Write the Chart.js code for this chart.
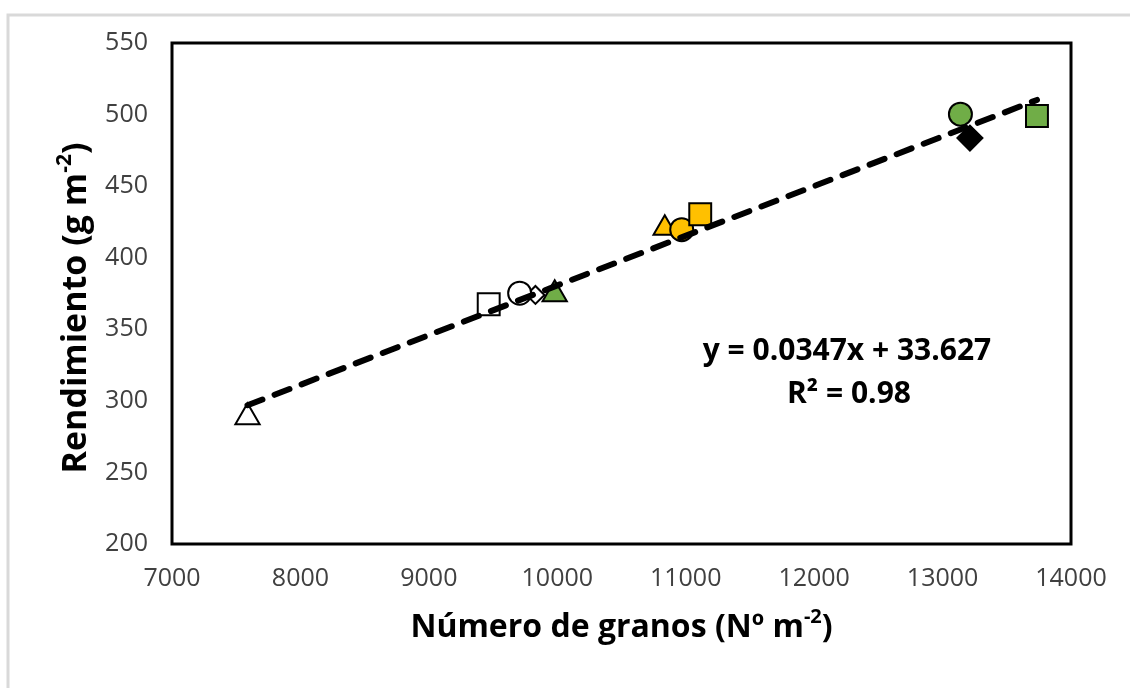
<!DOCTYPE html>
<html><head><meta charset="utf-8">
<script src="https://cdn.jsdelivr.net/npm/chart.js@4.4.0/dist/chart.umd.min.js"></script>
<style>html,body{margin:0;padding:0;background:#fff;overflow:hidden}#wrap{position:relative;width:1130px;height:688px}</style>
</head><body><div id="wrap"><canvas id="c" width="1130" height="688"></canvas></div>
<script>
// ---- data ----
const granos      = [7588, 9466, 9830, 9707, 9980, 10837, 10969, 11113, 13139, 13213, 13735];
const rendimiento = [288.5, 367.5, 374, 375.2, 374.5, 420.6, 419.6, 430.4, 500.3, 483.6, 499];
const xTicks = [7000, 8000, 9000, 10000, 11000, 12000, 13000, 14000];
const yTicks = [200, 250, 300, 350, 400, 450, 500, 550];
const trendSlope = 0.0347;
const trendIntercept = 33.627;
const trendR2 = 0.98;
const xTitleMain = 'Número de granos (Nº m';
const yTitleMain = 'Rendimiento (g m';
const titleSup = '-2';
const titleEnd = ')';
const eqLine1 = 'y = 0.0347x + 33.627';
const eqLine2 = 'R² = 0.98';

// ---- marker styles (not data) ----
const markerShapes = ['triangle','rect','rectRot','circle','triangle','triangle','circle','rect','circle','rectRot','rect'];
const markerColors = ['#ffffff','#ffffff','#ffffff','#ffffff','#70ad47','#ffc000','#ffc000','#ffc000','#70ad47','#000000','#70ad47'];
const markerRadii  = [14, 15.5, 9, 11.5, 14, 13, 11.5, 15.5, 11.5, 12.5, 15.5];

const xMin = Math.min(...granos), xMax = Math.max(...granos);
const trendData = [xMin, xMax].map(x => ({x: x, y: trendSlope * x + trendIntercept}));

const FONT = '"Open Sans", "Noto Sans", sans-serif';

const framePlugin = {
  id: 'frame',
  beforeDraw(chart) {
    const ctx = chart.ctx;
    ctx.save();
    ctx.fillStyle = '#ffffff';
    ctx.fillRect(0, 0, chart.width, chart.height);
    ctx.strokeStyle = '#d9d9d9';
    ctx.lineWidth = 3;
    ctx.beginPath();
    ctx.moveTo(8, 688); ctx.lineTo(8, 15); ctx.lineTo(1130, 15);
    ctx.stroke();
    ctx.restore();
  },
  beforeDatasetsDraw(chart) {
    const a = chart.chartArea, ctx = chart.ctx;
    ctx.save();
    ctx.strokeStyle = '#000';
    ctx.lineWidth = 3;
    ctx.strokeRect(a.left, a.top, a.right - a.left, a.bottom - a.top);
    ctx.restore();
  },
  afterDraw(chart) {
    const ctx = chart.ctx;
    const a = chart.chartArea;
    ctx.save();
    ctx.fillStyle = '#000';
    function drawTitle(main, cx, cy, rot, size) {
      const mainFont = 'bold ' + size + 'px ' + FONT;
      const supFont = 'bold ' + Math.round(size * 0.62) + 'px ' + FONT;
      ctx.save();
      ctx.translate(cx, cy);
      ctx.rotate(rot);
      ctx.font = mainFont; const w1 = ctx.measureText(main).width;
      ctx.font = supFont; const w2 = ctx.measureText(titleSup).width;
      ctx.font = mainFont; const w3 = ctx.measureText(titleEnd).width;
      let x = -(w1 + w2 + w3) / 2;
      ctx.textBaseline = 'alphabetic'; ctx.textAlign = 'left';
      ctx.font = mainFont; ctx.fillText(main, x, 0); x += w1;
      ctx.font = supFont; ctx.fillText(titleSup, x, -size * 0.45); x += w2;
      ctx.font = mainFont; ctx.fillText(titleEnd, x, 0);
      ctx.restore();
    }
    drawTitle(xTitleMain, (a.left + a.right) / 2, 637, 0, 32);
    drawTitle(yTitleMain, 86, 308, -Math.PI / 2, 34);
    // equation
    ctx.font = 'bold 30px ' + FONT;
    ctx.textAlign = 'center';
    ctx.textBaseline = 'alphabetic';
    ctx.fillText(eqLine1, 847, 360);
    ctx.fillText(eqLine2, 849, 403);
    ctx.restore();
  }
};

new Chart(document.getElementById('c'), {
  data: {
    datasets: [
      {
        type: 'line',
        label: 'Tendencia',
        data: trendData,
        borderColor: '#000',
        borderWidth: 6,
        borderDash: [16, 13],
        borderCapStyle: 'round',
        pointRadius: 0,
        fill: false,
        order: 0
      },
      {
        type: 'scatter',
        label: 'Datos',
        data: granos.map((x, i) => ({x: x, y: rendimiento[i]})),
        pointStyle: markerShapes,
        backgroundColor: markerColors,
        borderColor: '#000',
        borderWidth: 2,
        pointRadius: markerRadii,
        pointHoverRadius: markerRadii,
        order: 1,
        clip: false
      }
    ]
  },
  options: {
    responsive: false,
    animation: false,
    devicePixelRatio: 1,
    layout: {padding: {left: 0, right: 59, top: 43, bottom: 0}},
    plugins: {legend: {display: false}, tooltip: {enabled: false}},
    scales: {
      x: {
        type: 'linear', min: 7000, max: 14000,
        grid: {display: false, drawTicks: false},
        border: {display: false},
        afterBuildTicks: s => { s.ticks = xTicks.map(v => ({value: v})); },
        afterFit: s => { s.height = 144; },
        ticks: {padding: 20, color: '#404040', font: {family: FONT, size: 25}, callback: v => String(v), maxRotation: 0}
      },
      y: {
        type: 'linear', min: 200, max: 550,
        grid: {display: false, drawTicks: false},
        border: {display: false},
        afterBuildTicks: s => { s.ticks = yTicks.map(v => ({value: v})); },
        afterFit: s => { s.width = 172; },
        ticks: {padding: 24, color: '#404040', font: {family: FONT, size: 25}, callback: v => String(v)}
      }
    }
  },
  plugins: [framePlugin]
});
</script>
</body></html>
